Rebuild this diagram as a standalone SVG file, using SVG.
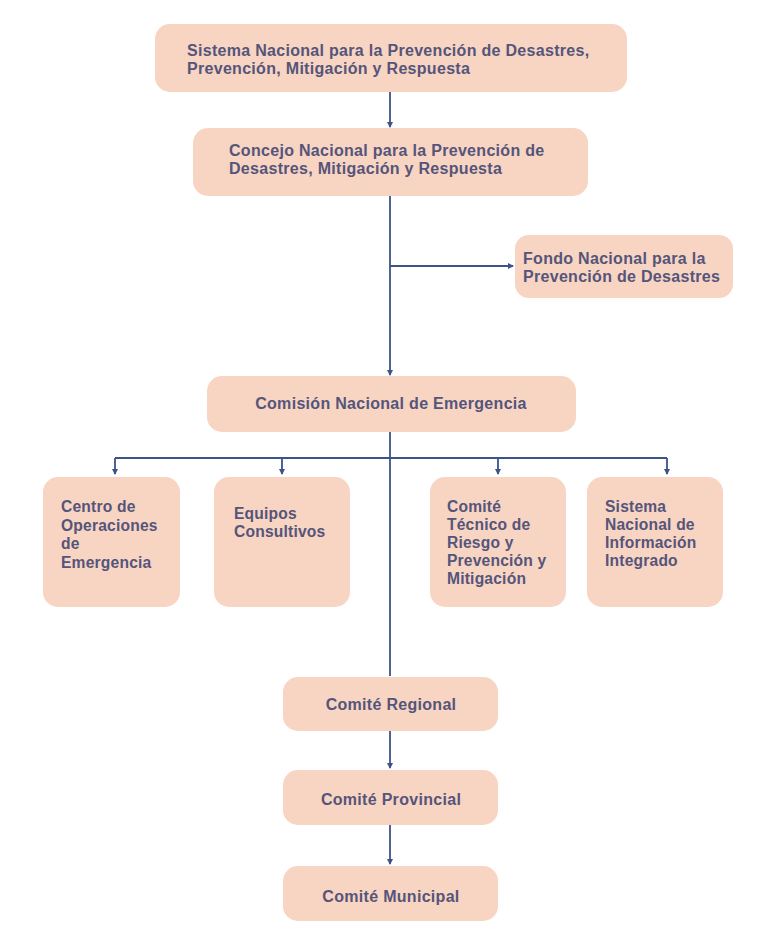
<svg xmlns="http://www.w3.org/2000/svg" width="769" height="925" viewBox="0 0 769 925">
<style>
.box{fill:#f8d4c3;}
.t{font-family:"Liberation Sans",Arial,sans-serif;font-weight:bold;font-size:16px;letter-spacing:0.3px;fill:#55557a;}
.s{font-size:15.6px;letter-spacing:0.2px;}
.c{text-anchor:middle;}
.ln{stroke:#3e5288;stroke-width:1.8;fill:none;}
</style>
<defs>
<marker id="ah" markerWidth="6" markerHeight="6" refX="5" refY="3" orient="auto" markerUnits="userSpaceOnUse">
<path d="M0,0 L6,3 L0,6 Z" fill="#3e5288"/>
</marker>
</defs>
<rect width="769" height="925" fill="#ffffff"/>
<g id="connectors">
<line class="ln" x1="390" y1="92" x2="390" y2="127" marker-end="url(#ah)"/>
<line class="ln" x1="390" y1="196" x2="390" y2="375" marker-end="url(#ah)"/>
<line class="ln" x1="390" y1="266" x2="513" y2="266" marker-end="url(#ah)"/>
<line class="ln" x1="390" y1="432" x2="390" y2="676"/>
<line class="ln" x1="115" y1="458" x2="667" y2="458"/>
<line class="ln" x1="115" y1="458" x2="115" y2="474" marker-end="url(#ah)"/>
<line class="ln" x1="282" y1="458" x2="282" y2="474" marker-end="url(#ah)"/>
<line class="ln" x1="498" y1="458" x2="498" y2="474" marker-end="url(#ah)"/>
<line class="ln" x1="667" y1="458" x2="667" y2="474" marker-end="url(#ah)"/>
<line class="ln" x1="390" y1="731" x2="390" y2="768" marker-end="url(#ah)"/>
<line class="ln" x1="390" y1="825" x2="390" y2="864" marker-end="url(#ah)"/>
</g>
<g id="sistema">
<rect class="box" x="155" y="24" width="472" height="68" rx="15"/>
<text class="t" x="187" y="56">Sistema Nacional para la Prevención de Desastres,</text>
<text class="t" x="187" y="74">Prevención, Mitigación y Respuesta</text>
</g>
<g id="concejo">
<rect class="box" x="193" y="128" width="395" height="68" rx="15"/>
<text class="t" x="229" y="156">Concejo Nacional para la Prevención de</text>
<text class="t" x="229" y="174">Desastres, Mitigación y Respuesta</text>
</g>
<g id="fondo">
<rect class="box" x="515" y="235" width="218" height="63" rx="14"/>
<text class="t" x="523" y="264">Fondo Nacional para la</text>
<text class="t" x="523" y="282">Prevención de Desastres</text>
</g>
<g id="comision">
<rect class="box" x="207" y="376" width="369" height="56" rx="15"/>
<text class="t c" x="391" y="409">Comisión Nacional de Emergencia</text>
</g>
<g id="centro">
<rect class="box" x="43" y="477" width="137" height="130" rx="15"/>
<text class="t s" x="61" y="512">Centro de</text>
<text class="t s" x="61" y="531">Operaciones</text>
<text class="t s" x="61" y="549">de</text>
<text class="t s" x="61" y="568">Emergencia</text>
</g>
<g id="equipos">
<rect class="box" x="214" y="477" width="136" height="130" rx="15"/>
<text class="t s" x="234" y="519">Equipos</text>
<text class="t s" x="234" y="537">Consultivos</text>
</g>
<g id="comite-tecnico">
<rect class="box" x="430" y="477" width="136" height="130" rx="15"/>
<text class="t s" x="447" y="512">Comité</text>
<text class="t s" x="447" y="530">Técnico de</text>
<text class="t s" x="447" y="548">Riesgo y</text>
<text class="t s" x="447" y="566">Prevención y</text>
<text class="t s" x="447" y="584">Mitigación</text>
</g>
<g id="sistema-info">
<rect class="box" x="587" y="477" width="136" height="130" rx="15"/>
<text class="t s" x="605" y="512">Sistema</text>
<text class="t s" x="605" y="530">Nacional de</text>
<text class="t s" x="605" y="548">Información</text>
<text class="t s" x="605" y="566">Integrado</text>
</g>
<g id="regional">
<rect class="box" x="283" y="677" width="215" height="54" rx="15"/>
<text class="t c" x="391" y="710">Comité Regional</text>
</g>
<g id="provincial">
<rect class="box" x="283" y="770" width="215" height="55" rx="15"/>
<text class="t c" x="391" y="805">Comité Provincial</text>
</g>
<g id="municipal">
<rect class="box" x="283" y="866" width="215" height="55" rx="15"/>
<text class="t c" x="391" y="902">Comité Municipal</text>
</g>
</svg>
